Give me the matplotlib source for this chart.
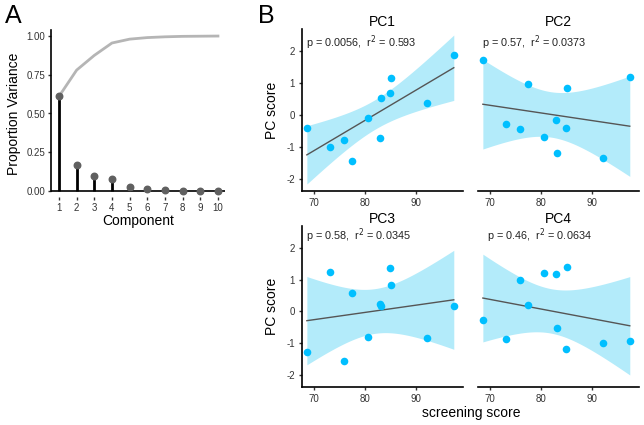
import numpy as np
import matplotlib
matplotlib.use('Agg')
import matplotlib.pyplot as plt

plt.rcParams['font.family'] = ['Liberation Sans', 'DejaVu Sans']
plt.rcParams['axes.unicode_minus'] = False

# panel A: variance explained per component
components = np.arange(1, 11)
prop_var = [0.61, 0.17, 0.095, 0.08, 0.025, 0.01, 0.004, 0.002, 0.001, 0.0005]
cum_var = [0.61, 0.78, 0.875, 0.955, 0.98, 0.99, 0.995, 0.998, 0.999, 1.0]

# panel B: screening score vs PC scores
screening = [68.6, 73.2, 75.9, 77.5, 80.5, 82.8, 83.1, 84.8, 85.1, 92.0, 97.3]
pc_scores = {
    'PC1': [-0.40, -1.01, -0.77, -1.44, -0.10, -0.73, 0.52, 0.70, 1.15, 0.37, 1.87],
    'PC2': [1.70, -0.29, -0.44, 0.95, -0.68, -0.17, -1.17, -0.40, 0.85, -1.35, 1.19],
    'PC3': [-1.28, 1.23, -1.54, 0.58, -0.79, 0.24, 0.17, 1.37, 0.84, -0.83, 0.16],
    'PC4': [-0.26, -0.86, 0.98, 0.19, 1.21, 1.16, -0.51, -1.18, 1.38, -1.00, -0.92],
}
stats = {
    'PC1': 'p = 0.0056,  r$^2$ = 0.593',
    'PC2': 'p = 0.57,  r$^2$ = 0.0373',
    'PC3': 'p = 0.58,  r$^2$ = 0.0345',
    'PC4': 'p = 0.46,  r$^2$ = 0.0634',
}

fig = plt.figure(figsize=(6.44, 4.25), dpi=100)
W, H = 644.0, 425.0


def px_axes(l, t, r, b):
    return fig.add_axes([l / W, 1 - b / H, (r - l) / W, (b - t) / H])


txt = '#333333'

# ---- panel A
axA = px_axes(51, 30, 225, 197)
axA.plot(components, cum_var, color='#b5b5b5', lw=2, zorder=1)
axA.vlines(components, 0, prop_var, color='black', lw=2, zorder=2)
axA.scatter(components, prop_var, s=22, color='#606060', zorder=3)
axA.axhline(0, color='black', lw=1.2, zorder=2)
axA.set_xlim(0.55, 10.4)
axA.set_ylim(-0.039, 1.039)
axA.set_xticks(components)
axA.set_yticks([0, 0.25, 0.5, 0.75, 1.0])
axA.set_yticklabels(['0.00', '0.25', '0.50', '0.75', '1.00'])
for s in ['top', 'right', 'bottom']:
    axA.spines[s].set_visible(False)
axA.spines['left'].set_bounds(0, 1.039)
axA.spines['left'].set_linewidth(1.2)
axA.tick_params(axis='x', length=2, width=1, pad=2, labelsize=7, colors=txt)
axA.tick_params(axis='y', length=2, width=1, pad=2, labelsize=7, colors=txt)
axA.set_xlabel('Component', fontsize=10, labelpad=1)
axA.set_ylabel('Proportion Variance', fontsize=10, labelpad=4)
fig.text(5 / W, 1 - 4 / H, 'A', fontsize=18, va='top', ha='left')

# ---- panel B
t_crit = 2.262  # t quantile, df = 9
boxes = {
    'PC1': (302, 29, 463, 191),
    'PC2': (478, 29, 639, 191),
    'PC3': (302, 226, 463, 387),
    'PC4': (478, 226, 639, 387),
}
stat_y = {'PC1': 2.25, 'PC2': 2.25, 'PC3': 2.37, 'PC4': 2.37}
x = np.array(screening)
for name, box in boxes.items():
    ax = px_axes(*box)
    y = np.array(pc_scores[name])
    n = len(x)
    b1, b0 = np.polyfit(x, y, 1)
    xs = np.linspace(x.min(), x.max(), 100)
    fit = b0 + b1 * xs
    resid = y - (b0 + b1 * x)
    se_res = np.sqrt(np.sum(resid ** 2) / (n - 2))
    se = se_res * np.sqrt(1 / n + (xs - x.mean()) ** 2 / np.sum((x - x.mean()) ** 2))
    ax.fill_between(xs, fit - t_crit * se, fit + t_crit * se, color='#b3ebfa', lw=0, zorder=1)
    ax.plot(xs, fit, color='#555555', lw=1, zorder=2)
    ax.scatter(x, y, s=30, color='#00bfff', lw=0, zorder=3)
    ax.set_xlim(67.65, 99.1)
    ax.set_ylim(-2.37, 2.68)
    ax.set_xticks([70, 80, 90])
    ax.set_yticks([-2, -1, 0, 1, 2])
    for s in ['top', 'right']:
        ax.spines[s].set_visible(False)
    ax.spines['bottom'].set_linewidth(1.2)
    ax.spines['left'].set_linewidth(1.2)
    ax.tick_params(length=2, width=1, pad=3, labelsize=7, colors=txt)
    if name in ('PC2', 'PC4'):
        ax.spines['left'].set_visible(False)
        ax.tick_params(axis='y', left=False, labelleft=False)
    else:
        ax.set_ylabel('PC score', fontsize=10, labelpad=5)
    ax.set_title(name, fontsize=10, pad=1)
    xt = 68.5 if name != 'PC4' else 69.5
    ax.text(xt, stat_y[name], stats[name], fontsize=7.8, va='center', ha='left', color='#222222')

fig.text(471 / W, 1 - 413 / H, 'screening score', fontsize=10, ha='center', va='center')
fig.text(258 / W, 1 - 4 / H, 'B', fontsize=18, va='top', ha='left')

fig.savefig('out.png', dpi=100)
